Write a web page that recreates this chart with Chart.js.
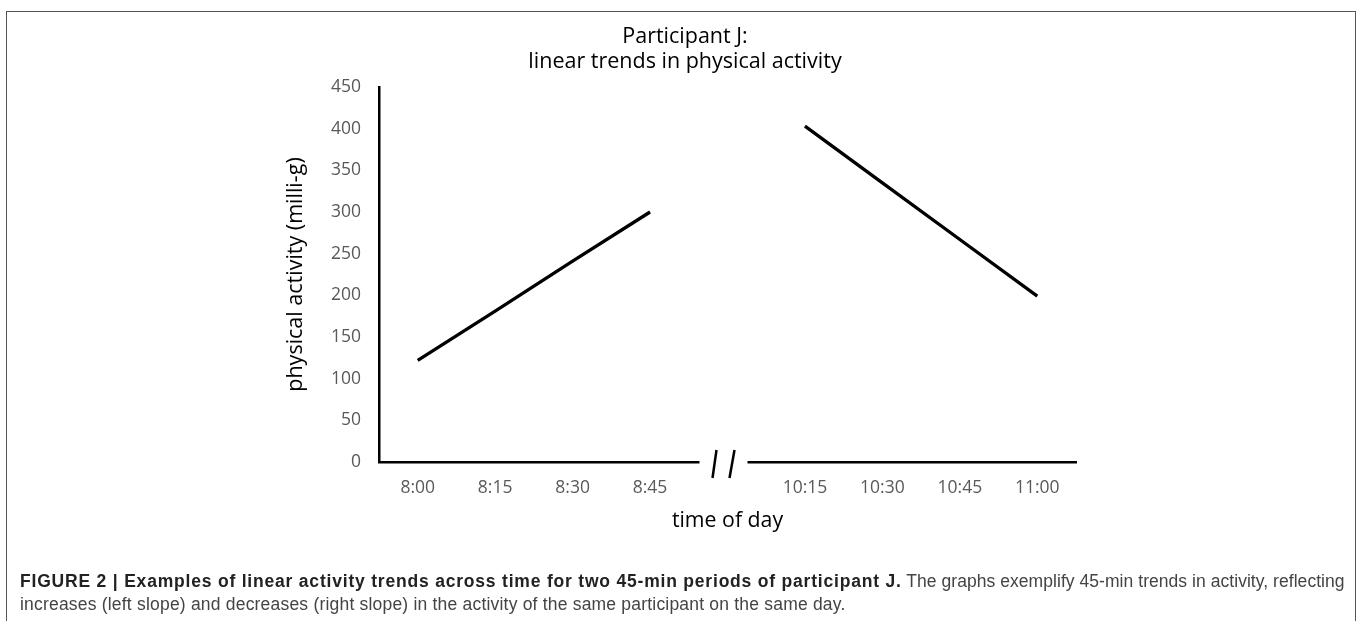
<!DOCTYPE html>
<html>
<head>
<meta charset="utf-8">
<script src="https://cdn.jsdelivr.net/npm/chart.js@4.4.1/dist/chart.umd.min.js"></script>
<style>
html,body{margin:0;padding:0;background:#fff;}
#wrap{position:relative;width:1357px;height:621px;overflow:hidden;background:#fff;}
#frame{position:absolute;left:6px;top:11px;width:1350px;height:700px;border:1.5px solid #555;box-sizing:border-box;}
#chart{position:absolute;left:0;top:0;}
#caption{position:absolute;left:20px;top:570px;white-space:nowrap;font-family:"Liberation Sans",Arial,sans-serif;font-size:17.5px;line-height:23px;color:#444;}
#caption b{color:#222;letter-spacing:0.8px;}
#caption .l1{letter-spacing:0.05px;}
#caption .l2{letter-spacing:0.2px;}
</style>
</head>
<body>
<div id="wrap">
  <div id="frame"></div>
  <canvas id="chart" width="1357" height="621"></canvas>
  <div id="caption"><b>FIGURE 2 | Examples of linear activity trends across time for two 45-min periods of participant J.</b><span class="l1"> The graphs exemplify 45-min trends in activity, reflecting</span><br><span class="l2">increases (left slope) and decreases (right slope) in the activity of the same participant on the same day.</span></div>
</div>
<script>
// ---- data ----
const categories = ['8:00', '8:15', '8:30', '8:45', '', '10:15', '10:30', '10:45', '11:00'];
const firstPeriod = [122, 181, 241, 300, null, null, null, null, null];
const secondPeriod = [null, null, null, null, null, 403, 335, 267, 199];
const yMin = 0;
const yMax = 450;
const yStep = 50;
const chartTitle = ['Participant J:', 'linear trends in physical activity'];
const xTitle = 'time of day';
const yTitle = 'physical activity (milli-g)';

const FONT = '"Open Sans", Lato, sans-serif';

// draws the "//" axis break at the empty category
const axisBreak = {
  id: 'axisBreak',
  afterDraw(chart) {
    const xs = chart.scales.x, ys = chart.scales.y;
    const idx = categories.indexOf('');
    const xc = xs.getPixelForValue(idx) - 4;
    const yb = ys.getPixelForValue(yMin);
    const ctx = chart.ctx;
    ctx.save();
    ctx.fillStyle = '#fff';
    ctx.fillRect(xc - 24, yb - 3, 48, 6);
    ctx.strokeStyle = '#000';
    ctx.lineWidth = 2.5;
    ctx.beginPath();
    ctx.moveTo(xc - 11, yb + 16); ctx.lineTo(xc - 7, yb - 12);
    ctx.moveTo(xc + 6, yb + 16); ctx.lineTo(xc + 11, yb - 12);
    ctx.stroke();
    ctx.restore();
  }
};

new Chart(document.getElementById('chart'), {
  type: 'line',
  data: {
    labels: categories,
    datasets: [
      { data: firstPeriod, borderColor: '#000', borderWidth: 3.3, pointRadius: 0, tension: 0, spanGaps: false },
      { data: secondPeriod, borderColor: '#000', borderWidth: 3.3, pointRadius: 0, tension: 0, spanGaps: false }
    ]
  },
  options: {
    responsive: false,
    animation: false,
    devicePixelRatio: 1,
    layout: { padding: { left: 294, right: 281, top: 12, bottom: 84 } },
    plugins: {
      legend: { display: false },
      tooltip: { enabled: false },
      title: {
        display: true,
        text: chartTitle,
        color: '#000',
        font: { family: FONT, size: 21.5, weight: 'normal', lineHeight: '25px' },
        padding: { top: 12.5, bottom: 12.5 }
      }
    },
    scales: {
      x: {
        type: 'category',
        offset: true,
        grid: { display: false, drawTicks: false },
        border: { display: true, color: '#000', width: 2.5 },
        ticks: { color: '#595959', font: { family: FONT, size: 17.5 }, padding: 16, autoSkip: false, maxRotation: 0 },
        title: { display: true, text: xTitle, color: '#000', font: { family: FONT, size: 21.3 }, padding: { top: 0, bottom: 3 } },
        afterFit(scale) { scale.height = 75; }
      },
      y: {
        min: yMin,
        max: yMax,
        grid: { display: false, drawTicks: false },
        border: { display: true, color: '#000', width: 2.5 },
        ticks: { stepSize: yStep, color: '#595959', font: { family: FONT, size: 17.5 }, padding: 18 },
        title: { display: true, text: yTitle, color: '#000', font: { family: FONT, size: 21.5 }, padding: { top: -11, bottom: 0 } },
        afterFit(scale) { scale.width = 85; }
      }
    }
  },
  plugins: [axisBreak]
});
</script>
</body>
</html>
